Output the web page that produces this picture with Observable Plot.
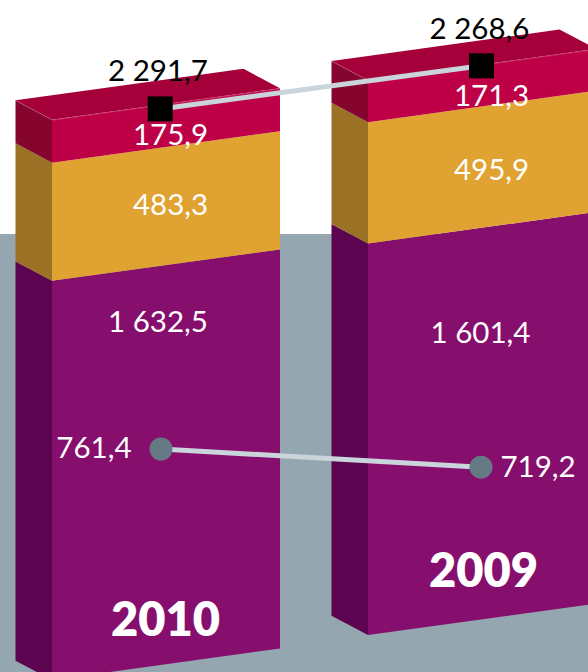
<!DOCTYPE html>
<html>
<head>
<meta charset="utf-8">
<script src="https://cdn.jsdelivr.net/npm/d3@7"></script>
<script src="https://cdn.jsdelivr.net/npm/@observablehq/plot@0.6"></script>
<style>
html,body{margin:0;padding:0;overflow:hidden;background:#fff}
svg{display:block}
</style>
</head>
<body>
<div id="chart"></div>
<script>
// Data
const years = ["2010", "2009"];
const lower = [1632.5, 1601.4];
const middle = [483.3, 495.9];
const upper = [175.9, 171.3];
const totals = [2291.7, 2268.6];
const markers = [761.4, 719.2];
const fmt = ["1 632,5", "1 601,4"];
const fmtMid = ["483,3", "495,9"];
const fmtUp = ["175,9", "171,3"];
const fmtTotal = ["2 291,7", "2 268,6"];
const fmtMarker = ["761,4", "719,2"];

// Colours
const ground = "#94a6af";
const palette = {
  lower: {front: "#860e6d", side: "#5c044f"},
  middle: {front: "#e0a230", side: "#9a7125"},
  upper: {front: "#be0047", side: "#85052f", top: "#a50039"}
};

// Projection constants of the pseudo-3D drawing
const W = 588, H = 672, unit = 0.2445, floorPx = 680;
const toU = px => (floorPx - px) / unit;
const slopeFront = 0.138 / unit;   // value units per px along the front face
const slopeSide = 0.53 / unit;     // value units per px along the side face
const depth = 36.5, faceW = 228;
const sideX = [15.5, 331.5];
const base = [0, toU(635)];
const frontX = i => sideX[i] + depth;
const frontU = (i, v, x) => base[i] + v + (x - frontX(i)) * slopeFront;
const sideU = (i, v, x) => base[i] + v + (frontX(i) - x) * slopeSide;
const markerU = v => toU(448.5 + (761.4 - v) * 0.431);

const marks = [
  Plot.rectY([0], {x1: 0, x2: W, y1: toU(234), y2: toU(H + 10), fill: ground})
];

years.forEach((yr, i) => {
  const a = lower[i], b = a + middle[i], c = b + upper[i];
  const levels = [
    ["lower", 0, a], ["middle", a, b], ["upper", b, c]
  ];
  const fx = frontX(i), rx = fx + faceW, sx = sideX[i];
  levels.forEach(([k, v0, v1]) => {
    marks.push(Plot.areaY([fx, rx], {
      x: d => d, y1: d => frontU(i, v0, d), y2: d => frontU(i, v1, d),
      fill: palette[k].front, clip: true
    }));
    marks.push(Plot.areaY([sx, fx], {
      x: d => d, y1: d => sideU(i, v0, d), y2: d => sideU(i, v1, d),
      fill: palette[k].side, clip: true
    }));
  });
  // top face
  const bx = sx + faceW;
  const topLow = x => x <= fx ? sideU(i, c, x) : frontU(i, c, x);
  const topHigh = x => x <= bx ? sideU(i, c, sx) + (x - sx) * slopeFront : frontU(i, c, rx) + (rx - x) * slopeSide;
  marks.push(Plot.areaY([sx, fx, bx, rx], {
    x: d => d, y1: topLow, y2: topHigh, fill: palette.upper.top, clip: true
  }));
  marks.push(Plot.line([sx, fx, rx], {
    x: d => d, y: topLow, stroke: "#fff", strokeOpacity: 0.25, strokeWidth: 0.7, clip: true
  }));
});

// Connecting lines
const squareY = [frontU(0, totals[0], 159.7) - 3.6 / unit, frontU(1, totals[1], 481) - 0.6 / unit];
const sq = years.map((y, i) => ({x: [159.7, 481][i], y: squareY[i]}));
const ci = years.map((y, i) => ({x: [160.5, 480.5][i], y: markerU(markers[i])}));
marks.push(Plot.line(sq, {x: "x", y: "y", stroke: "#c9d5db", strokeWidth: 5}));
marks.push(Plot.line(ci, {x: "x", y: "y", stroke: "#c9d5db", strokeWidth: 5}));
marks.push(Plot.dot(sq, {x: "x", y: "y", symbol: "square", r: 14.1, fill: "#000"}));
marks.push(Plot.dot(ci, {x: "x", y: "y", r: 11.5, fill: "#667a85"}));

// Labels
const font = "Lato";
function add(rows, o) {
  rows.forEach(r => marks.push(Plot.text([r], {
    x: "x", y: "y", text: "t", dy: r.dy,
    fontFamily: font, fontSize: 29.5, fill: "#fff", lineAnchor: "middle", ...o
  })));
}
const midX = [170, 491], lowX = [157.5, 480], totX = [157.5, 479], yrX = [165, 483];
add(years.map((y, i) => ({x: midX[i], y: frontU(i, lower[i] + middle[i] / 2, midX[i]), t: fmtMid[i], dy: [0, 4][i]})));
add(years.map((y, i) => ({x: midX[i], y: frontU(i, lower[i] + middle[i] + upper[i] / 2, midX[i]), t: fmtUp[i], dy: [10, 12][i]})));
add(years.map((y, i) => ({x: lowX[i], y: frontU(i, lower[i] / 2, lowX[i]), t: fmt[i], dy: [-144, -91][i]})));
add(years.map((y, i) => ({x: totX[i], y: frontU(i, totals[i], totX[i]), t: fmtTotal[i], dy: [-34, -36][i]})), {fill: "#000"});
add([{x: 131, y: markerU(markers[0]), t: fmtMarker[0], dy: 0}], {textAnchor: "end"});
add([{x: 500, y: markerU(markers[1]), t: fmtMarker[1], dy: 0}], {textAnchor: "start"});
add(years.map((y, i) => ({x: yrX[i], y: frontU(i, 0, yrX[i]), t: y, dy: [-44, -48][i]})), {fontSize: 47, fontWeight: 800});

const chart = Plot.plot({
  width: W, height: H,
  margin: 0,
  x: {domain: [0, W], range: [0, W], axis: null},
  y: {domain: [toU(H), toU(0)], range: [H, 0], axis: null},
  marks
});
document.getElementById("chart").append(chart);
</script>
</body>
</html>
